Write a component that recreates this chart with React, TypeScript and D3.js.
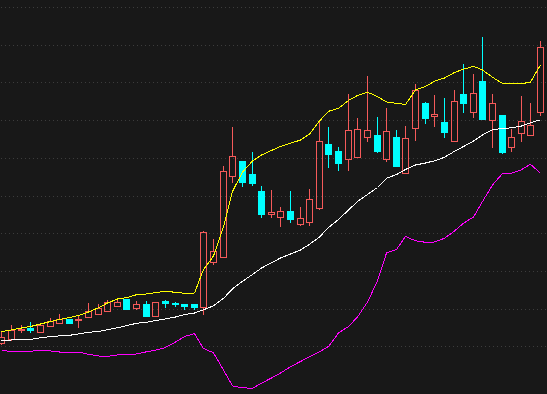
import React, { useEffect } from "react";
import * as d3 from "d3";

// OHLC per session (price units)
const opens = [57, 61, 70.5, 72.3, 68.3, 74.3, 77.3, 81.3, 79.7, 83.3, 86, 89.5, 94.3, 101, 92.5, 96.3, 84.5, 99.3, 97.3, 96, 96,
  93.5, 138.5, 143.3, 223.7, 239, 226, 209, 186.3, 183.3, 189.3, 176.3, 177.7, 192.3, 256, 249, 241.3, 243.3, 262.7, 265, 240.7,
  263, 227.3, 271.7, 297, 284, 278, 259.3, 306, 287.7, 319, 279.7, 285, 253.3, 266.7, 264.7, 287.7];
const highs = [68, 75, 75, 78, 77, 82, 86, 81.5, 84, 97, 95.7, 100, 101.7, 101.3, 99, 99, 98, 100, 98.5, 96, 96,
  169, 161, 234, 273.3, 239, 248, 213.7, 210, 192.7, 209, 193, 211, 279, 273, 253, 306, 281.7, 324, 283, 292,
  270, 274, 316, 298.3, 305.3, 302, 310, 336.3, 326.3, 363.3, 306, 285, 271, 304, 297, 359];
const lows = [55, 59, 67, 67, 68, 73, 77, 76.5, 72.5, 83, 85, 89, 93, 91, 90, 84.5, 84.5, 92.5, 93.3, 90, 90,
  85, 135.5, 142.3, 216.7, 213.3, 214, 182.3, 181.7, 173.3, 177.3, 174, 173.7, 190, 232.3, 229.3, 229.3, 242.7, 257.7, 246.7, 238,
  233, 227.3, 259, 276.3, 272.7, 262.3, 259.3, 286.7, 282, 280, 252.3, 246, 248.3, 258.3, 264.7, 284];
const closes = [63, 70, 71.5, 70, 75, 79, 80.7, 77.3, 80.7, 89, 92, 98.5, 98, 91.3, 96.2, 84.5, 98, 97.3, 96, 94, 93.5,
  167.7, 148.7, 229, 243.7, 218.3, 217.3, 185.7, 188, 189, 181.3, 182, 201, 258.7, 246, 237.3, 269.7, 270.7, 269.7, 249.3, 268.7,
  234.3, 261.7, 309.7, 282.3, 286, 268.3, 299, 297.3, 307, 281, 297, 248, 262.7, 279, 274.7, 352.7];

// Bollinger bands
const upperBand = [68.5, 70, 72, 73.5, 76, 78.5, 80.5, 82.5, 84.5, 88, 92.2, 97, 101, 102.3, 105.3, 106, 107.3, 108.7, 107.7, 106.7, 107,
  130.5, 144, 173, 208.5, 228, 239, 245, 249.5, 253.5, 256.7, 260, 266, 279, 288.7, 291.7, 299.5, 304.5, 307.8, 303.5, 298,
  296.7, 295.5, 310, 313.5, 318.8, 322, 327.5, 330.8, 333.7, 330, 322.7, 316.6, 316.4, 316.2, 318, 335];
const midBand = [59.5, 60, 60.3, 60.6, 62.2, 63.4, 64.1, 64.7, 66, 67.7, 68.6, 70.3, 72.2, 74.3, 76.7, 77.8, 79.4, 81.1, 83, 85.5, 87,
  90.2, 94.2, 101.6, 111.2, 118.7, 125.5, 132, 137.2, 142, 146, 150, 155.7, 163, 172.5, 180.5, 190, 198.5, 205.5, 212.5, 221.7,
  225.5, 230.5, 235, 237, 239.2, 242.7, 248.7, 253.5, 259, 265, 270.4, 271.5, 272.2, 274, 277.3, 280.2];
const lowerBand = [49.3, 48.7, 48.7, 48.7, 49.7, 49, 48, 48, 48, 45.7, 44, 43.7, 45, 45.8, 46, 48.2, 49.8, 52.5, 58, 63.5, 66.4,
  51.5, 47.2, 30, 14, 12.2, 11.7, 16.8, 22, 27, 33.3, 38.5, 43.2, 48.2, 53.5, 67, 73.5, 83, 98, 119, 147,
  150.5, 163.5, 159.2, 157.7, 158, 161.7, 169, 176.8, 183, 198.5, 215, 226.5, 226.7, 230.3, 235.7, 226.7];

const gridValues = [393, 355.3, 317.6, 279.9, 242.2, 204.5, 166.8, 129.1, 91.4, 53.7];

const W = 547;
const H = 394;
const UP = "#f55a5a";
const DOWN = "#00ffff";

export default function App() {
  useEffect(() => {
    document.body.style.margin = "0";
    document.body.style.background = "#181818";
  }, []);

  const idx = d3.range(opens.length);
  const step = 9.62;
  const x = d3.scaleBand<number>()
    .domain(idx)
    .range([1.9 - step / 2, 1.9 - step / 2 + step * idx.length])
    .paddingInner(0);
  const y = d3.scaleLinear().domain([6, 400]).range([H, 0]);

  const cx = (i: number) => Math.floor((x(i) as number) + x.bandwidth() / 2);

  const line = (vals: number[]) =>
    d3.line<number>()
      .x((_, i) => cx(i) + 0.5)
      .y((d) => y(d))(vals) as string;

  return (
    <svg width={W} height={H} style={{ position: "absolute", left: 0, top: 0, background: "#181818" }}>
      <g shapeRendering="crispEdges">
        {gridValues.map((g) => (
          <line key={g} x1={1} x2={W} y1={Math.round(y(g)) + 0.5} y2={Math.round(y(g)) + 0.5}
            stroke="#3c3c3c" strokeDasharray="1,3" />
        ))}
      </g>
      <g shapeRendering="crispEdges">
        {idx.map((i) => {
          const c = cx(i) + 0.5;
          const up = closes[i] >= opens[i];
          const top = Math.round(y(Math.max(opens[i], closes[i])));
          const bot = Math.round(y(Math.min(opens[i], closes[i])));
          const hi = Math.round(y(highs[i]));
          const lo = Math.round(y(lows[i]));
          if (up) {
            return (
              <g key={i} stroke={UP} fill="none">
                {hi < top && <line x1={c} x2={c} y1={hi} y2={top} />}
                {lo > bot && <line x1={c} x2={c} y1={bot} y2={lo} />}
                <rect x={c - 3} y={top + 0.5} width={6} height={Math.max(bot - top, 1)} />
              </g>
            );
          }
          return (
            <g key={i} stroke={DOWN} fill={DOWN}>
              <line x1={c} x2={c} y1={hi} y2={lo} />
              <rect x={c - 3} y={top + 0.5} width={6} height={Math.max(bot - top, 1)} />
            </g>
          );
        })}
      </g>
      <g fill="none" strokeWidth={1} shapeRendering="crispEdges">
        <path d={line(upperBand)} stroke="#ffff00" />
        <path d={line(midBand)} stroke="#ffffff" />
        <path d={line(lowerBand)} stroke="#ff00ff" />
      </g>
    </svg>
  );
}
